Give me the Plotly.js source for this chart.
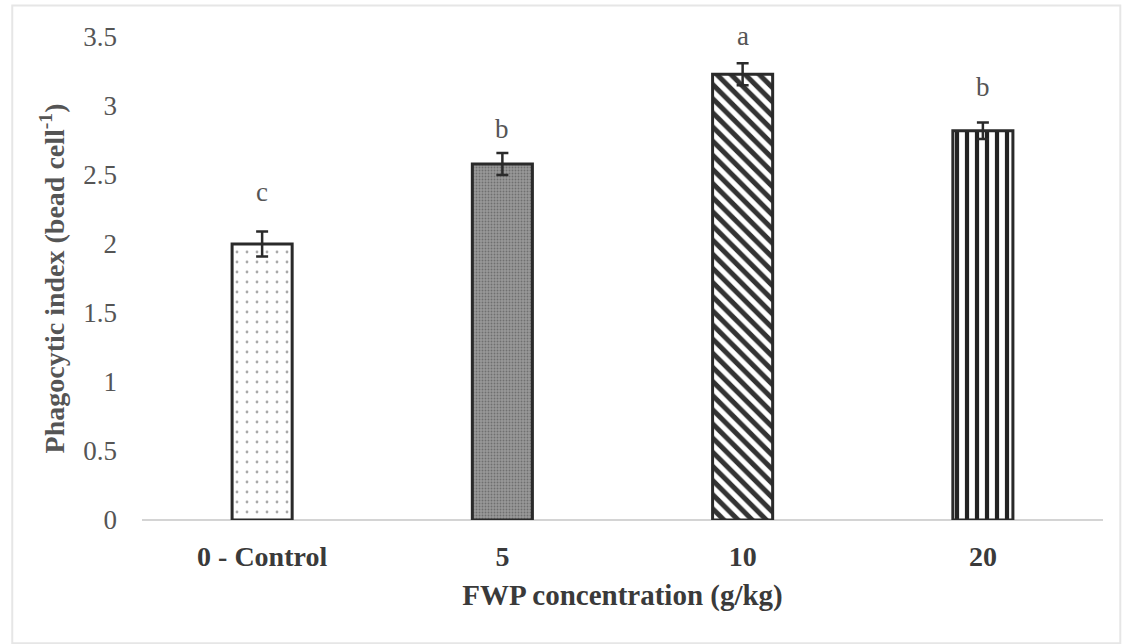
<!DOCTYPE html>
<html><head><meta charset="utf-8">
<script src="https://cdn.plot.ly/plotly-3.0.1.min.js"></script>
<style>body{margin:0;background:#fff}#c{width:1126px;height:644px}</style>
</head><body><div id="c"></div>
<script>
const categories = ["0 - Control", "5", "10", "20"];
const positions = [0, 1, 2, 3];
const values = [2.0, 2.58, 3.23, 2.82];
const errors = [0.09, 0.08, 0.08, 0.06];
const letters = ["c", "b", "a", "b"];
const letterY = [2.38, 2.83, 3.51, 3.14];
const tickVals = [0, 0.5, 1, 1.5, 2, 2.5, 3, 3.5];
const tickText = ["0", "0.5", "1", "1.5", "2", "2.5", "3", "3.5"];

const styles = [
  {color: "#ffffff", shape: ".", fg: "#a8a8a8", bg: "#ffffff", size: 10, solidity: 0.06},
  {color: "#8f8f8f", shape: ".", fg: "#6f6f6f", bg: "#999999", size: 3, solidity: 0.3},
  {color: "#ffffff", shape: "\\", fg: "#333333", bg: "#ffffff", size: 10, solidity: 0.5},
  {color: "#ffffff", shape: "|", fg: "#222222", bg: "#ffffff", size: 10, solidity: 0.42}
];

const SERIF = "Liberation Serif, Times New Roman, serif";
const Y_MAX = 3.5;
const PLOT_TOP = 37, PLOT_BOTTOM = 124, HEIGHT = 644;
const pxPerUnit = (HEIGHT - PLOT_TOP - PLOT_BOTTOM) / Y_MAX;

const traces = positions.map((p, i) => ({
  type: "bar",
  x: [p],
  y: [values[i]],
  width: 0.25,
  error_y: {type: "data", array: [errors[i]], visible: true, color: "#2a2a2a", thickness: 2.5, width: 6},
  marker: {
    color: styles[i].color,
    line: {color: "#2a2a2a", width: 3},
    pattern: {shape: styles[i].shape, fgcolor: styles[i].fg, bgcolor: styles[i].bg,
      size: styles[i].size, solidity: styles[i].solidity, fillmode: "replace"}
  },
  hoverinfo: "skip"
}));

const annotations = positions.map((p, i) => ({
  x: p, y: values[i] + errors[i], yref: "y", xref: "x",
  yshift: (letterY[i] - values[i] - errors[i]) * pxPerUnit,
  text: letters[i], showarrow: false,
  font: {family: SERIF, size: 27, color: "#555"}
}));

const layout = {
  width: 1126, height: HEIGHT,
  margin: {l: 142, r: 23, t: PLOT_TOP, b: PLOT_BOTTOM},
  paper_bgcolor: "#ffffff", plot_bgcolor: "#ffffff",
  showlegend: false, barmode: "overlay",
  xaxis: {
    range: [-0.5, 3.5], tickvals: positions, ticktext: categories, tickangle: 0,
    tickfont: {family: SERIF, size: 28, color: "#3a3a3a", weight: "bold"},
    showline: false, showgrid: false, zeroline: false, ticks: "", ticklabelstandoff: 17,
    title: {text: "<b>FWP concentration (g/kg)</b>", standoff: 13,
      font: {family: SERIF, size: 29, color: "#3a3a3a"}}
  },
  yaxis: {
    range: [0, Y_MAX], tickvals: tickVals, ticktext: tickText,
    tickfont: {family: SERIF, size: 27, color: "#555"},
    showgrid: false, zeroline: true, zerolinecolor: "#d4d4d4", zerolinewidth: 2,
    showline: false, ticks: "", ticklen: 0, ticklabelstandoff: 24,
    title: {text: "<b>Phagocytic index (bead cell<sup>-1</sup>)</b>", standoff: 10,
      font: {family: SERIF, size: 28, color: "#555"}}
  },
  annotations: annotations,
  shapes: [{type: "rect", xref: "paper", yref: "paper", x0: -0.135, x1: 1.018, y0: -0.255, y1: 1.065,
    line: {color: "#e6e6e6", width: 2}}]
};

Plotly.newPlot("c", traces, layout, {staticPlot: true});
</script></body></html>
